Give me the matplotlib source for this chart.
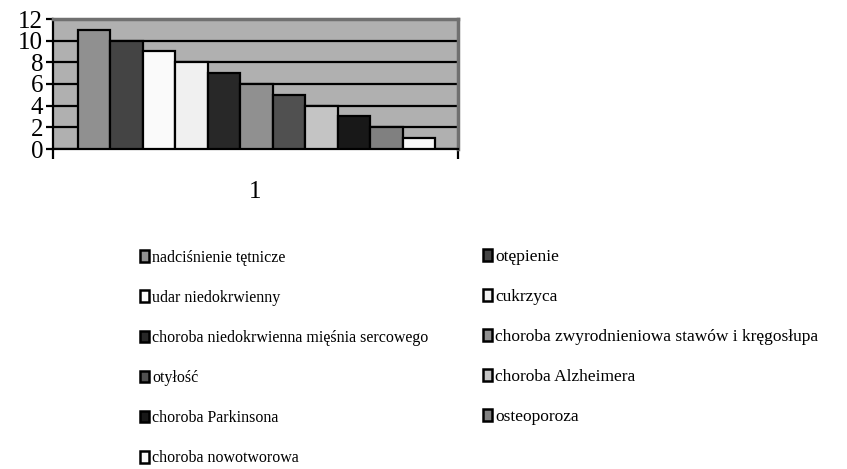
import matplotlib.pyplot as plt
from matplotlib.patches import Patch

labels = ['nadciśnienie tętnicze', 'otępienie', 'udar niedokrwienny', 'cukrzyca',
          'choroba niedokrwienna mięśnia sercowego',
          'choroba zwyrodnieniowa stawów i kręgosłupa', 'otyłość',
          'choroba Alzheimera', 'choroba Parkinsona', 'osteoporoza',
          'choroba nowotworowa']
values = [11, 10, 9, 8, 7, 6, 5, 4, 3, 2, 1]
colors = ['#909090', '#444444', '#fafafa', '#f0f0f0', '#282828', '#909090',
          '#505050', '#c4c4c4', '#181818', '#808080', '#f8f8f8']

plt.rcParams['font.family'] = ['Liberation Serif', 'DejaVu Serif']

fig = plt.figure(figsize=(8.47, 4.69), dpi=100)
ax = fig.add_axes([53 / 847, 1 - 149 / 469, 405 / 847, 130 / 469])
ax.set_facecolor('#b0b0b0')

x = list(range(len(values)))
bars = ax.bar(x, values, width=1.0, color=colors, edgecolor='black',
              linewidth=1.6, zorder=3)

ax.set_xlim(-1.27, 11.2)
ax.set_ylim(0, 12)
ax.set_yticks(range(0, 13, 2))
ax.set_yticklabels([str(v) for v in range(0, 13, 2)], fontsize=18)
ax.yaxis.grid(True, color='black', linewidth=1.6, zorder=1)
ax.set_axisbelow(True)
ax.tick_params(axis='y', length=5, width=1.6, pad=2)

ax.set_xticks([-1.27, 11.2])
ax.set_xticklabels(['', ''])
ax.tick_params(axis='x', length=7, width=1.6, direction='out')
ax.text(0.5, -0.25, '1', transform=ax.transAxes, ha='center', va='top',
        fontsize=18)

ax.spines['left'].set_linewidth(1.6)
ax.spines['bottom'].set_linewidth(1.6)
ax.spines['top'].set_color('#707070')
ax.spines['top'].set_linewidth(2.5)
ax.spines['right'].set_color('#707070')
ax.spines['right'].set_linewidth(2.5)

handles = [Patch(facecolor=c, edgecolor='black', linewidth=1.8) for c in colors]

def add_legend(idx, x0, y0, size, spacing):
    fig.legend([handles[i] for i in idx], [labels[i] for i in idx],
               loc='upper left', bbox_to_anchor=(x0 / 847, 1 - y0 / 469),
               frameon=False, fontsize=size, labelspacing=spacing,
               handlelength=6.2 / size, handleheight=8.2 / size,
               handletextpad=2.6 / size, borderpad=0, borderaxespad=0)

add_legend([0, 2, 4, 6, 8, 10], 140, 249.5, 11.5, 1.515)
add_legend([1, 3, 5, 7, 9], 483, 249, 12.5, 1.38)

fig.savefig('out.png', dpi=100)
